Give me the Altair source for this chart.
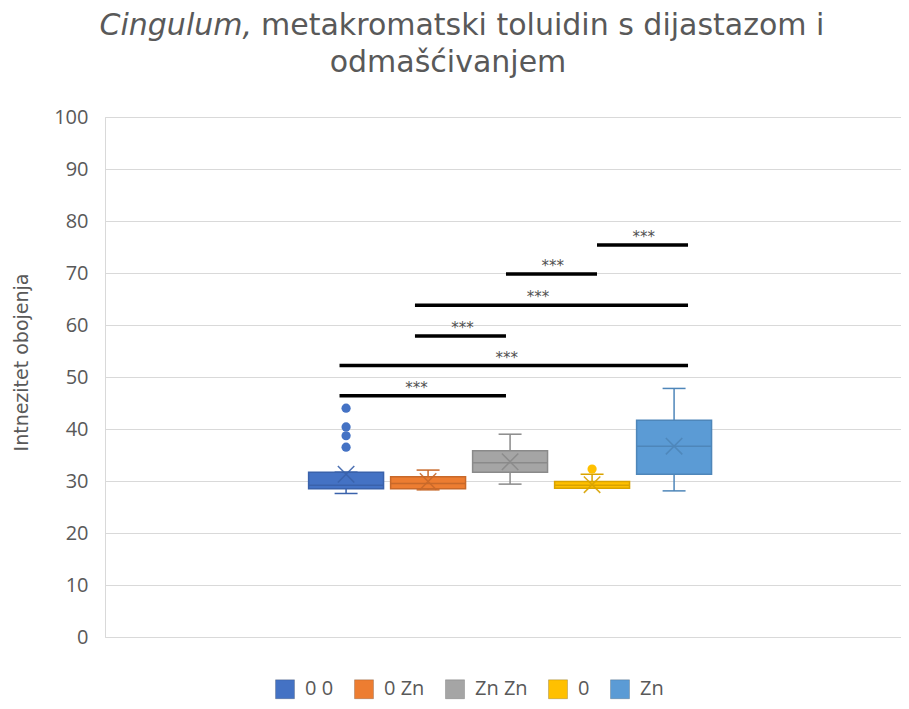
import altair as alt
import pandas as pd

# ---- data ----
groups = ["0 0", "0 Zn", "Zn Zn", "0", "Zn"]
positions = [1, 2, 3, 4, 5]
whisker_low = [27.6, 28.3, 29.4, 28.6, 28.1]
quart1 = [28.5, 28.5, 31.7, 28.6, 31.3]
medians = [29.2, 29.5, 33.5, 29.2, 36.7]
quart3 = [31.7, 30.8, 35.8, 29.9, 41.7]
whisker_high = [31.7, 32.1, 39.0, 31.3, 47.8]
means = [31.3, 29.9, 33.7, 29.3, 36.7]
fill_colors = ["#4472C4", "#ED7D31", "#A5A5A5", "#FFC000", "#5B9BD5"]
line_colors = ["#3A62AB", "#C8692A", "#8A8A8A", "#D9A300", "#4E86B9"]

outlier_group = ["0 0", "0 0", "0 0", "0 0", "0"]
outlier_pos = [1, 1, 1, 1, 4]
outlier_values = [44.0, 40.4, 38.7, 36.5, 32.3]
outlier_colors = ["#4472C4", "#4472C4", "#4472C4", "#4472C4", "#FFC000"]

sig_start = [4.06, 2.95, 1.84, 1.84, 0.92, 0.92]
sig_end = [5.17, 4.06, 5.17, 2.95, 5.17, 2.95]
sig_level = [75.4, 69.8, 63.8, 57.9, 52.2, 46.4]
sig_text_x = [4.63, 3.52, 3.34, 2.42, 2.96, 1.86]
sig_label = ["***"] * 6

title_italic = "Cingulum,"
title_rest = "metakromatski toluidin s dijastazom i"
title_line2 = "odmašćivanjem"
y_title = "Intnezitet obojenja"
y_ticks = [0, 10, 20, 30, 40, 50, 60, 70, 80, 90, 100]

# ---- tables ----
box_df = pd.DataFrame({
    "group": groups, "pos": positions, "lo": whisker_low, "q1": quart1,
    "med": medians, "q3": quart3, "hi": whisker_high, "mean": means,
    "dark": line_colors,
})
out_df = pd.DataFrame({"group": outlier_group, "pos": outlier_pos,
                       "value": outlier_values, "fc": outlier_colors})
sig_df = pd.DataFrame({"x1": sig_start, "x2": sig_end, "y": sig_level,
                       "tx": sig_text_x, "label": sig_label})

PLOT_W = 796
xscale = alt.Scale(domain=[-1.94, -1.94 + PLOT_W / 82.0], nice=False, zero=False)
yscale = alt.Scale(domain=[0, 100], nice=False)
GRAY = "#595959"

base = alt.Chart(box_df).transform_calculate(
    bx1="datum.pos - 0.457", bx2="datum.pos + 0.457",
    c1="datum.pos - 0.14", c2="datum.pos + 0.14",
)
stroke_dark = alt.Stroke("dark:N", scale=None)

whisk_low = base.mark_rule(strokeWidth=1.5).encode(
    x=alt.X("pos:Q", scale=xscale, axis=None),
    y=alt.Y("lo:Q", scale=yscale,
            axis=alt.Axis(values=y_ticks, title=y_title, grid=True,
                          gridColor="#D9D9D9", gridWidth=1, domain=True,
                          domainColor="#D9D9D9", ticks=False,
                          labelFont="Open Sans", labelFontSize=20,
                          labelColor=GRAY, labelPadding=17,
                          titleFont="DejaVu Sans", titleFontSize=19,
                          titleFontWeight="normal", titleColor=GRAY,
                          titleX=-84, titleY=245, titleAngle=270,
                          titleAlign="center", titleBaseline="middle")),
    y2="q1:Q", stroke=stroke_dark,
)
whisk_high = base.mark_rule(strokeWidth=1.5).encode(
    x=alt.X("pos:Q", scale=xscale, axis=None),
    y=alt.Y("q3:Q", scale=yscale), y2="hi:Q", stroke=stroke_dark,
)
cap_low = base.mark_rule(strokeWidth=1.5).encode(
    x=alt.X("c1:Q", scale=xscale, axis=None), x2="c2:Q",
    y=alt.Y("lo:Q", scale=yscale), stroke=stroke_dark,
)
cap_high = base.mark_rule(strokeWidth=1.5).encode(
    x=alt.X("c1:Q", scale=xscale, axis=None), x2="c2:Q",
    y=alt.Y("hi:Q", scale=yscale), stroke=stroke_dark,
)
boxes = base.mark_bar(strokeWidth=1.5).encode(
    x=alt.X("bx1:Q", scale=xscale, axis=None), x2="bx2:Q",
    y=alt.Y("q1:Q", scale=yscale), y2="q3:Q",
    color=alt.Color("group:N",
                    scale=alt.Scale(domain=groups, range=fill_colors),
                    legend=alt.Legend(orient="none", legendX=170, legendY=562,
                                      direction="horizontal", columns=5,
                                      title=None, symbolType="square",
                                      symbolSize=361, symbolStrokeWidth=1,
                                      symbolStrokeColor="rgba(0,0,0,0.18)",
                                      labelFont="Open Sans", labelFontSize=20,
                                      labelColor=GRAY, labelOffset=10,
                                      columnPadding=18, padding=0)),
    stroke=stroke_dark,
)
median_rule = base.mark_rule(strokeWidth=1.5).encode(
    x=alt.X("bx1:Q", scale=xscale, axis=None), x2="bx2:Q",
    y=alt.Y("med:Q", scale=yscale), stroke=stroke_dark,
)
mean_x = base.mark_point(shape="M-1,-1L1,1M-1,1L1,-1", size=270,
                         filled=False, strokeWidth=1.5, opacity=0.9).encode(
    x=alt.X("pos:Q", scale=xscale, axis=None),
    y=alt.Y("mean:Q", scale=yscale), stroke=stroke_dark,
)
outliers = alt.Chart(out_df).mark_circle(size=85, opacity=1).encode(
    x=alt.X("pos:Q", scale=xscale, axis=None),
    y=alt.Y("value:Q", scale=yscale),
    fill=alt.Fill("fc:N", scale=None),
)
sig_lines = alt.Chart(sig_df).mark_rule(strokeWidth=3.5, color="black",
                                        strokeCap="butt").encode(
    x=alt.X("x1:Q", scale=xscale, axis=None), x2="x2:Q",
    y=alt.Y("y:Q", scale=yscale),
)
sig_text = alt.Chart(sig_df).mark_text(font="DejaVu Sans", fontSize=15,
                                       color="#505050", baseline="alphabetic",
                                       dy=-3).encode(
    x=alt.X("tx:Q", scale=xscale, axis=None),
    y=alt.Y("y:Q", scale=yscale),
    text="label:N",
)

t1 = alt.Chart(pd.DataFrame({"t": [title_italic]})).mark_text(
    font="DejaVu Sans", fontSize=30, fontStyle="italic", color=GRAY,
    align="right", baseline="alphabetic").encode(
    text="t:N", x=alt.value(147), y=alt.value(-82))
t2 = alt.Chart(pd.DataFrame({"t": [title_rest]})).mark_text(
    font="DejaVu Sans", fontSize=30, color=GRAY,
    align="left", baseline="alphabetic").encode(
    text="t:N", x=alt.value(156), y=alt.value(-82))
t3 = alt.Chart(pd.DataFrame({"t": [title_line2]})).mark_text(
    font="DejaVu Sans", fontSize=30, color=GRAY,
    align="center", baseline="alphabetic").encode(
    text="t:N", x=alt.value(343), y=alt.value(-45))

chart = alt.layer(
    whisk_low, whisk_high, cap_low, cap_high, boxes, median_rule, mean_x,
    outliers, sig_lines, sig_text, t1, t2, t3,
).properties(
    width=PLOT_W, height=520,
    autosize=alt.AutoSizeParams(type="none"),
    padding={"left": 97, "top": 109, "right": 0, "bottom": 64},
).configure_view(strokeWidth=0).configure(background="white")

chart.save("out.html", embed_options={"renderer": "svg", "actions": False})
